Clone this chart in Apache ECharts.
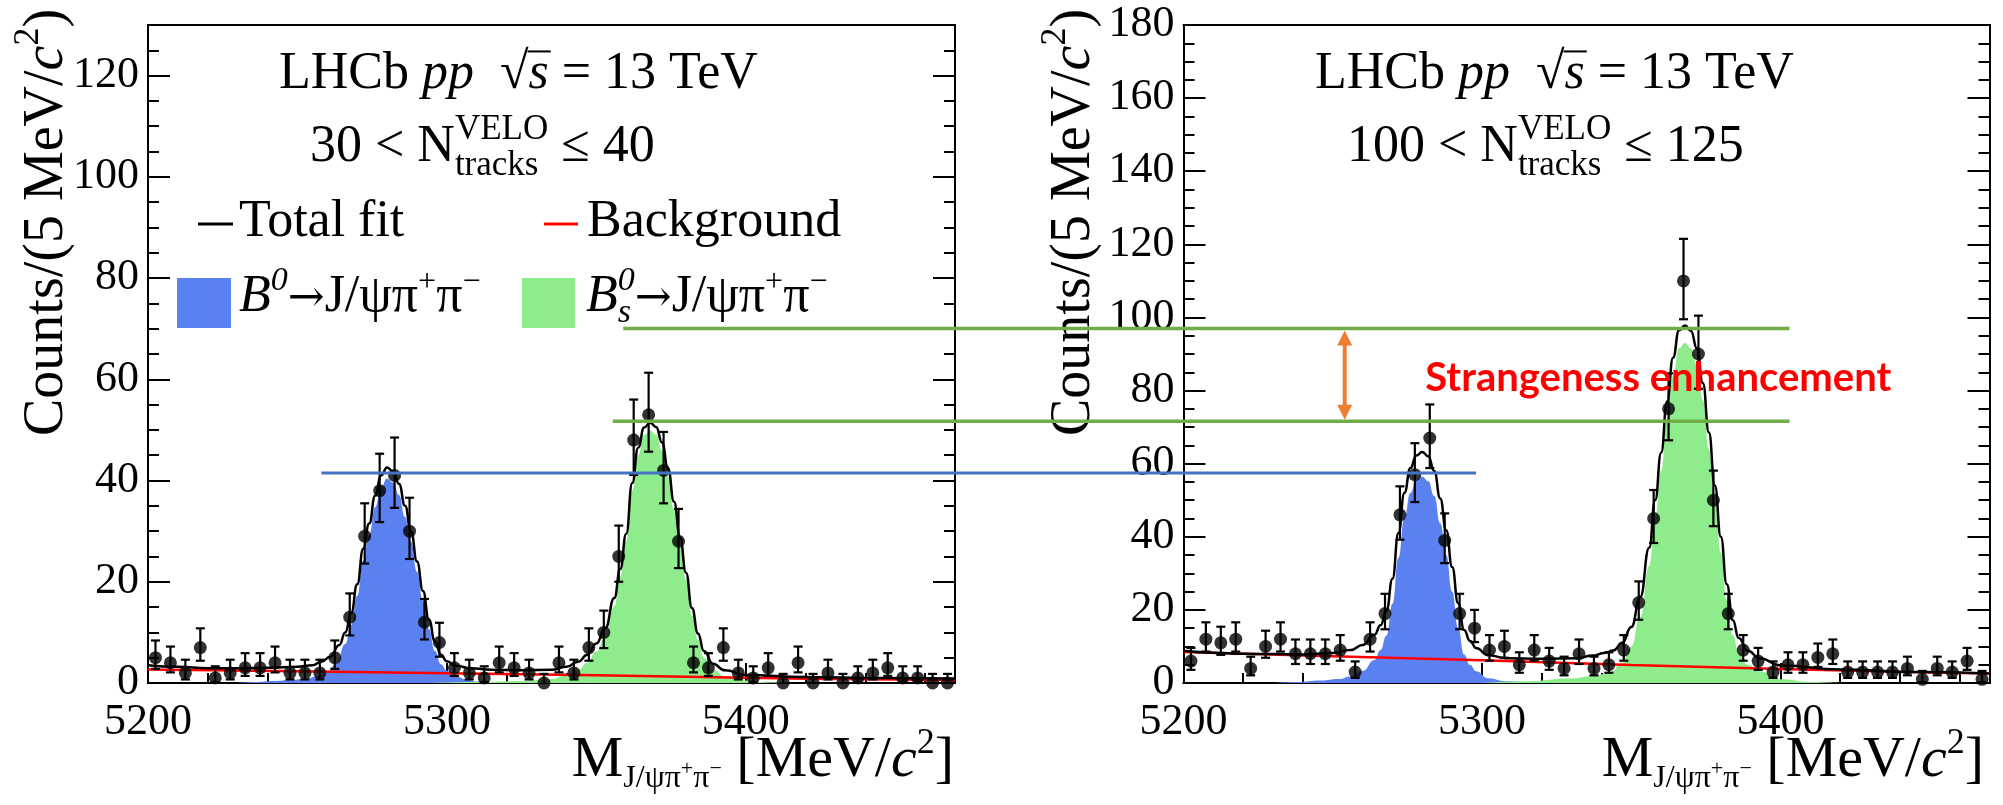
<!DOCTYPE html>
<html>
<head>
<meta charset="utf-8">
<script src="https://cdn.jsdelivr.net/npm/echarts@6/dist/echarts.min.js"></script>
<style>html,body{margin:0;padding:0;background:#fff}#c{width:2003px;height:805px}</style>
</head>
<body>
<div id="c"></div>
<script>
// ---------------- data ----------------
const binCenters = [5202.5,5207.5,5212.5,5217.5,5222.5,5227.5,5232.5,5237.5,5242.5,5247.5,5252.5,5257.5,5262.5,5267.5,5272.5,5277.5,5282.5,5287.5,5292.5,5297.5,5302.5,5307.5,5312.5,5317.5,5322.5,5327.5,5332.5,5337.5,5342.5,5347.5,5352.5,5357.5,5362.5,5367.5,5372.5,5377.5,5382.5,5387.5,5392.5,5397.5,5402.5,5407.5,5412.5,5417.5,5422.5,5427.5,5432.5,5437.5,5442.5,5447.5,5452.5,5457.5,5462.5,5467.5];

// panel 1: 30 < N <= 40
const countsLow = [5,4,2,7,1,2,3,3,4,2, 2,2,5,13,29,38,41,30,12,8, 3,2,1,4,3,2,0,4,2,7, 10,25,48,53,42,28,4,3,7,2, 1,3,0,4,0,2,0,1,2,3, 1,1,0,0];
const errUpLow  = [3.4,3.2,2.6,3.8,2.3,2.6,2.9,2.9,3.2,2.6, 2.6,2.6,3.4,4.7,6.5,7.3,7.5,6.6,4.6,3.9, 2.9,2.6,2.3,3.2,2.9,2.6,1.8,3.2,2.6,3.8, 4.3,6.1,8.0,8.3,7.6,6.4,3.2,2.9,3.8,2.6, 2.3,2.9,1.8,3.2,1.8,2.6,1.8,2.3,2.6,2.9, 2.3,2.3,1.8,1.8];
const errDnLow  = [2.2,1.9,1.3,2.6,0.8,1.3,1.6,1.6,1.9,1.3, 1.3,1.3,2.2,3.6,5.4,6.2,6.4,5.5,3.4,2.8, 1.6,1.3,0.8,1.9,1.6,1.3,0,1.9,1.3,2.6, 3.1,5.0,6.9,7.3,6.5,5.3,1.9,1.6,2.6,1.3, 0.8,1.6,0,1.9,0,1.3,0,0.8,1.3,1.6, 0.8,0.8,0,0];

const fitMassLow  = [5200,5210,5220,5230,5240,5250,5255,5258,5261,5264,5266,5268,5270,5272,5274,5276,5278,5280,5282,5284,5286,5288,5290,5292,5294,5296,5298,5300,5303,5308,5315,5325,5335,5340,5344,5347,5350,5353,5356,5358,5360,5362,5364,5366,5368,5370,5372,5374,5376,5378,5380,5382,5384,5386,5389,5393,5400,5420,5445,5470];
const fitTotalLow = [3.5,3.2,2.9,2.9,3.0,3.2,3.5,4.2,5.2,7.5,10,13.8,19.5,26.5,31.5,37,41,42.6,41.8,39.3,35,30,24,18.2,12.5,8.2,5.6,4.3,3.4,2.9,2.6,2.5,2.6,3.2,4.2,5.6,7.8,10.8,16.8,22.5,29.5,39.5,46.5,50.5,51.4,50.6,47.5,42.3,35.8,28.8,21.8,14.8,9.8,6.3,3.8,2.5,1.6,1.2,1.0,0.9];
const bkgMassLow  = [5200,5250,5300,5350,5400,5420,5470];
const bkgLow      = [2.65,2.3,1.95,1.55,1.05,0.85,0.6];
const b0MassLow   = [5230,5236,5242,5248,5253,5257,5260,5263,5266,5268,5270,5272,5274,5276,5278,5280,5282,5284,5286,5288,5290,5292,5294,5296,5298,5300,5303,5306,5310,5316];
const b0Low       = [0,0.2,0.4,0.6,0.9,1.4,2.2,3.8,7.7,11.5,17.2,24.2,29.2,34.7,38.7,40.4,39.6,37.1,32.8,27.9,22,16.3,10.6,6.3,3.7,2.4,1.4,0.8,0.3,0];
const bsMassLow   = [5295,5310,5325,5335,5340,5344,5347,5350,5353,5356,5358,5360,5362,5364,5366,5368,5370,5372,5374,5376,5378,5380,5382,5384,5386,5389,5393,5400,5408,5416];
const bsLow       = [0,0.2,0.4,0.8,1.6,2.6,4.0,6.2,9.2,15.2,21,28,38,45,49,49.9,49.1,46,40.8,34.3,27.3,20.4,13.4,8.5,5.0,2.6,1.3,0.5,0.15,0];

// panel 2: 100 < N <= 125
const countsHigh = [6,12,11,12,4,10,12,8,8,8, 9,3,12,19,46,57,67,39,19,15, 9,10,5,9,6,4,8,4,5,9, 22,45,75,110,90,50,19,9,6,3, 5,5,7,8,3,3,3,3,4,1, 4,3,6,1];
const errUpHigh  = [3.6,4.6,4.4,4.6,3.2,4.3,4.6,3.9,3.9,3.9, 4.1,2.9,4.6,5.4,7.8,8.6,9.2,7.4,5.4,5.0, 4.1,4.3,3.4,4.1,3.6,3.2,3.9,3.2,3.4,4.1, 5.8,7.8,9.7,11.5,10.5,8.1,5.4,4.1,3.6,2.9, 3.4,3.4,3.8,3.9,2.9,2.9,2.9,2.9,3.2,2.3, 3.2,2.9,3.6,2.3];
const errDnHigh  = [2.4,3.4,3.3,3.4,1.9,3.1,3.4,2.8,2.8,2.8, 2.9,1.6,3.4,4.3,6.8,7.5,8.2,6.2,4.3,3.8, 2.9,3.1,2.2,2.9,2.4,1.9,2.8,1.9,2.2,2.9, 4.7,6.7,8.6,10.5,9.5,7.1,4.3,2.9,2.4,1.6, 2.2,2.2,2.6,2.8,1.6,1.6,1.6,1.6,1.9,0.8, 1.9,1.6,2.4,0.8];

const fitMassHigh  = [5200,5210,5220,5230,5240,5250,5256,5260,5264,5266,5268,5270,5272,5274,5276,5278,5280,5282,5284,5286,5288,5290,5292,5294,5296,5298,5302,5308,5320,5332,5337,5341,5344,5347,5350,5353,5356,5358,5360,5362,5364,5366,5368,5370,5372,5374,5376,5378,5380,5382,5384,5386,5389,5393,5400,5420,5445,5470];
const fitTotalHigh = [8.8,8.3,8.0,7.9,7.8,8.2,9.0,10.4,13.2,15.8,19.8,28.5,41,52,58.8,62.2,63.2,62,58,50.5,41.8,31.7,21.8,14.5,11.5,9.6,7.6,6.8,6.6,6.8,7.5,8.2,8.9,11,15.3,23.5,37,50,63,77,89,96.5,97.8,96.3,91.5,82,68.5,54,40,27,17.2,12.3,8.8,6.8,4.8,3.7,3.0,2.6];
const bkgMassHigh  = [5200,5250,5300,5350,5400,5450,5470];
const bkgHigh      = [8.5,7.3,6.2,4.9,3.8,2.9,2.6];
const b0MassHigh   = [5230,5238,5246,5252,5256,5260,5264,5266,5268,5270,5272,5274,5276,5278,5280,5282,5284,5286,5288,5290,5292,5294,5296,5298,5302,5308,5316];
const b0High       = [0,0.3,0.7,1.1,1.8,3.3,6.3,9,13,21.7,34.2,45.2,52,55.4,56.4,55.2,51.2,43.7,35,25,15.1,7.8,4.9,3.2,1.3,0.5,0];
const bsMassHigh   = [5300,5315,5330,5338,5343,5347,5350,5353,5356,5358,5360,5362,5364,5366,5368,5370,5372,5374,5376,5378,5380,5382,5384,5386,5389,5393,5400,5410,5420];
const bsHigh       = [0,0.5,1.3,2.0,3.0,5.5,10,18,32,45,58,72,84,91.6,93,91.5,86.8,77.4,64,49.6,35.7,22.8,13.1,8.3,5,3.2,1.0,0.3,0];

// axis ranges / ticks / tick labels
const xMin = 5200, xMax = 5470, xMajor = 100, xMinor = 20;
const yMaxLow = 130, yMaxHigh = 180, yMajor = 20, yMinor = 5;
const xTickLabels = [5200, 5300, 5400];
const yTickLabelsLow = [0, 20, 40, 60, 80, 100, 120];
const yTickLabelsHigh = [0, 20, 40, 60, 80, 100, 120, 140, 160, 180];

// annotation levels (overlay drawn on top of the two plots)
const annB0Level = 41.5;      // left panel counts
const annB0Start = 5258;      // left panel mass
const annB0End = 5298;        // right panel mass
const annBsLowLevel = 51.7;   // left panel counts
const annBsLowStart = 5355.5; // left panel mass
const annBsHighLevel = 97;    // right panel counts
const annBsHighStart = 5359;  // left panel mass
const annBsEnd = 5403;        // right panel mass
const annArrowMass = 5254, annArrowTop = 96.4, annArrowBottom = 72.0; // right panel
const annTextMass = 5281, annTextBase = 79.3;                           // right panel
const annText = 'Strangeness enhancement';

// ---------------- styles ----------------
const SERIF = 'Liberation Serif';
const BLUE = '#5b81f1', GREEN = '#8fec8c';
const zip = (a, b) => a.map((v, i) => [v, b[i]]);

const gridsPos = [
  {left: 148, top: 25, width: 807, height: 658},
  {left: 1183.5, top: 25, width: 806, height: 658}
];

function tickStyle(len){ return {show: true, inside: true, length: len, lineStyle: {color: '#000', width: 2}}; }
function mkX(gi){
  const c = {type: 'value', gridIndex: gi, min: xMin, max: xMax, splitLine: {show: false}, axisLabel: {show: false},
    axisLine: {show: true, onZero: false, lineStyle: {color: '#000', width: 2}}};
  return [
    Object.assign({}, c, {position: 'bottom', interval: xMajor, axisTick: tickStyle(20)}),
    Object.assign({}, c, {position: 'bottom', interval: xMinor, axisTick: tickStyle(10)}),
    Object.assign({}, c, {position: 'top', interval: xMajor, axisTick: {show: false}})
  ];
}
function mkY(gi, ymax){
  const c = {type: 'value', gridIndex: gi, min: 0, max: ymax, splitLine: {show: false}, axisLabel: {show: false},
    axisLine: {show: true, onZero: false, lineStyle: {color: '#000', width: 2}}};
  return [
    Object.assign({}, c, {position: 'left', interval: yMajor, axisTick: tickStyle(22)}),
    Object.assign({}, c, {position: 'left', interval: yMinor, axisTick: tickStyle(11)}),
    Object.assign({}, c, {position: 'right', interval: yMajor, axisTick: tickStyle(22)}),
    Object.assign({}, c, {position: 'right', interval: yMinor, axisTick: tickStyle(11)})
  ];
}

function panelSeries(xi, yi, counts, up, dn, fitM, fitV, bkM, bkV, b0M, b0V, bsM, bsV){
  const base = {xAxisIndex: xi, yAxisIndex: yi, silent: true, animation: false};
  return [
    Object.assign({type: 'line', data: zip(b0M, b0V), smooth: 0.5, smoothMonotone: 'x', symbol: 'none',
      lineStyle: {width: 0}, areaStyle: {color: BLUE, opacity: 1}, z: 1}, base),
    Object.assign({type: 'line', data: zip(bsM, bsV), smooth: 0.5, smoothMonotone: 'x', symbol: 'none',
      lineStyle: {width: 0}, areaStyle: {color: GREEN, opacity: 1}, z: 1}, base),
    Object.assign({type: 'line', data: zip(bkM, bkV), symbol: 'none', lineStyle: {color: '#ff0000', width: 2.5}, z: 3}, base),
    Object.assign({type: 'line', data: zip(fitM, fitV), smooth: 0.5, smoothMonotone: 'x', symbol: 'none',
      lineStyle: {color: '#000', width: 2.5}, z: 4}, base),
    Object.assign({type: 'custom', z: 5,
      data: binCenters.map((m, i) => [m, counts[i] - dn[i], counts[i] + up[i]]),
      renderItem: function(params, api){
        const x = api.value(0), lo = api.value(1), hi = api.value(2);
        const p1 = api.coord([x, lo]), p2 = api.coord([x, hi]);
        const st = {stroke: '#000', lineWidth: 2.2};
        const ch = [
          {type: 'line', shape: {x1: p1[0], y1: p1[1], x2: p2[0], y2: p2[1]}, style: st},
          {type: 'line', shape: {x1: p2[0] - 4.5, y1: p2[1], x2: p2[0] + 4.5, y2: p2[1]}, style: st}
        ];
        if (lo > 0) ch.push({type: 'line', shape: {x1: p1[0] - 4.5, y1: p1[1], x2: p1[0] + 4.5, y2: p1[1]}, style: st});
        return {type: 'group', children: ch};
      }}, base),
    Object.assign({type: 'scatter', data: zip(binCenters, counts), symbol: 'circle', symbolSize: 13,
      itemStyle: {color: '#000'}, z: 6}, base)
  ];
}

const chart = echarts.init(document.getElementById('c'), null, {renderer: 'canvas', width: 2003, height: 805});
// x axes: 0-2 left panel, 3-5 right panel; y axes: 0-3 left, 4-7 right
chart.setOption({
  animation: false,
  backgroundColor: '#fff',
  grid: gridsPos.map(g => Object.assign({containLabel: false}, g)),
  xAxis: mkX(0).concat(mkX(1)),
  yAxis: mkY(0, yMaxLow).concat(mkY(1, yMaxHigh)),
  series: panelSeries(0, 0, countsLow, errUpLow, errDnLow, fitMassLow, fitTotalLow, bkgMassLow, bkgLow, b0MassLow, b0Low, bsMassLow, bsLow)
    .concat(panelSeries(3, 4, countsHigh, errUpHigh, errDnHigh, fitMassHigh, fitTotalHigh, bkgMassHigh, bkgHigh, b0MassHigh, b0High, bsMassHigh, bsHigh))
});

// ---------------- text & overlay ----------------
const ctx = document.createElement('canvas').getContext('2d');
const KMID = {'Liberation Serif': 0.3375, 'Lato': 0.387};
function fontStr(p){ return (p.italic ? 'italic ' : '') + (p.bold ? 'bold ' : '') + p.size + 'px "' + (p.family || SERIF) + '"'; }
function measure(p){ ctx.font = fontStr(p); return ctx.measureText(p.t).width; }
function textEl(x, y, p){
  return {type: 'text', x: x, y: y, z: 100, silent: true,
    style: {text: p.t, font: fontStr(p), fill: p.color || '#000', align: 'left', verticalAlign: 'middle',
            textAlign: 'left', textVerticalAlign: 'middle'}};
}
function runPieces(x0, base, pieces, size){
  const els = []; let x = x0;
  for (const p0 of pieces){
    const items = p0.stack ? p0.stack : [p0];
    let w = 0;
    for (const q of items){
      const p = Object.assign({size: size}, q);
      const k = KMID[p.family || SERIF] || 0.34;
      els.push(textEl(x, base + (p.dy || 0) - k * p.size, p));
      const wi = measure(p);
      if (p.overline) {
        els.push({type: 'line', z: 100, silent: true,
          shape: {x1: x - 1, y1: base - 0.78 * p.size, x2: x + wi + 2, y2: base - 0.78 * p.size},
          style: {stroke: p.color || '#000', lineWidth: 2}});
      }
      w = Math.max(w, wi);
    }
    x += w;
  }
  return {els: els, width: x - x0};
}
function widthOf(pieces, size){ return runPieces(0, 0, pieces, size).width; }

const pxL = (m, v) => chart.convertToPixel({xAxisIndex: 0, yAxisIndex: 0}, [m, v]);
const pxR = (m, v) => chart.convertToPixel({xAxisIndex: 3, yAxisIndex: 4}, [m, v]);

const G = [];
function add(r){ r.els.forEach(e => G.push(e)); }

// tick labels, placed through the axes' own scales
const TICK_FS = 44;
[[pxL, yTickLabelsLow], [pxR, yTickLabelsHigh]].forEach(([px, yl]) => {
  xTickLabels.forEach(v => {
    const p = px(v, 0), s = String(v), w = measure({t: s, size: TICK_FS});
    add(runPieces(p[0] - w / 2, 737, [{t: s}], TICK_FS));
  });
  yl.forEach(v => {
    const p = px(xMin, v), s = String(v), w = measure({t: s, size: TICK_FS});
    add(runPieces(p[0] - 9 - w, p[1] + 0.33 * TICK_FS, [{t: s}], TICK_FS));
  });
});

// header texts
const lhcb = [{t: 'LHCb '}, {t: 'pp', italic: true}, {t: '  \u221A'}, {t: 's', italic: true, overline: true}, {t: ' = 13 TeV'}];
add(runPieces(279, 92, lhcb, 52));
add(runPieces(1315, 92, lhcb, 52));
const nLow = [{t: '30 < N'}, {stack: [{t: 'VELO', size: 35, dy: -23}, {t: 'tracks', size: 35, dy: 13}]}, {t: ' \u2264 40'}];
const nHigh = [{t: '100 < N'}, {stack: [{t: 'VELO', size: 35, dy: -23}, {t: 'tracks', size: 35, dy: 13}]}, {t: ' \u2264 125'}];
add(runPieces(310, 165, nLow, 52));
add(runPieces(1347, 165, nHigh, 52));

// legend (left panel)
G.push({type: 'line', z: 100, silent: true, shape: {x1: 198, y1: 224, x2: 233, y2: 224}, style: {stroke: '#000', lineWidth: 3}});
G.push({type: 'line', z: 100, silent: true, shape: {x1: 544, y1: 224, x2: 578, y2: 224}, style: {stroke: '#ff0000', lineWidth: 3}});
G.push({type: 'rect', z: 100, silent: true, shape: {x: 177, y: 278, width: 54, height: 50}, style: {fill: BLUE}});
G.push({type: 'rect', z: 100, silent: true, shape: {x: 522, y: 278, width: 53, height: 50}, style: {fill: GREEN}});
add(runPieces(239, 240, [{t: 'Total fit'}], 52));
add(runPieces(587, 240, [{t: 'Background'}], 52));
const decay = [{t: '\u2192', family: 'DejaVu Serif', size: 44}, {t: 'J/\u03C8\u03C0'}, {t: '+', size: 32, dy: -22}, {t: '\u03C0'}, {t: '\u2212', size: 32, dy: -22}];
add(runPieces(239, 315, [{t: 'B', italic: true}, {t: '0', italic: true, size: 34, dy: -22}].concat(decay), 52));
add(runPieces(586, 315, [{t: 'B', italic: true}, {stack: [{t: '0', italic: true, size: 34, dy: -22}, {t: 's', italic: true, size: 34, dy: 10}]}].concat(decay), 52));

// x axis titles
const xTitle = [{t: 'M', size: 58}, {t: 'J/\u03C8\u03C0', size: 32, dy: 9}, {t: '+', size: 22, dy: -3}, {t: '\u03C0', size: 32, dy: 9},
  {t: '\u2212', size: 22, dy: -3}, {t: ' [MeV/', size: 58}, {t: 'c', italic: true, size: 58}, {t: '2', size: 36, dy: -24}, {t: ']', size: 58}];
const xtW = widthOf(xTitle, 58);
add(runPieces(954 - xtW, 780, xTitle, 58));
add(runPieces(1984 - xtW, 780, xTitle, 58));

// y axis titles (rotated)
const yTitle = [{t: 'Counts/(5 MeV/'}, {t: 'c', italic: true}, {t: '2', size: 36, dy: -25}, {t: ')'}];
[[66, 436], [1093, 436]].forEach(([gx, gy]) => {
  G.push({type: 'group', x: gx, y: gy, rotation: Math.PI / 2, silent: true, children: runPieces(0, 0, yTitle, 56).els});
});

// overlay lines
function hline(x1, x2, y, color, w){ G.push({type: 'line', z: 120, silent: true, shape: {x1: x1, y1: y, x2: x2, y2: y}, style: {stroke: color, lineWidth: w}}); }
{
  const a = pxL(annB0Start, annB0Level), b = pxR(annB0End, 0);
  hline(a[0], b[0], a[1], '#4472C4', 3);
  const c = pxL(annBsLowStart, annBsLowLevel), d = pxR(annBsEnd, 0);
  hline(c[0], d[0], c[1], '#70AD47', 3.5);
  const e = pxL(annBsHighStart, 0), f = pxR(annBsEnd, annBsHighLevel);
  hline(e[0], f[0], f[1], '#70AD47', 3.5);
  const t = pxR(annArrowMass, annArrowTop), bt = pxR(annArrowMass, annArrowBottom);
  const ax = t[0], hl = 15, hw = 7.5, OR = '#ED7D31';
  G.push({type: 'line', z: 121, silent: true, shape: {x1: ax, y1: t[1] + hl - 2, x2: ax, y2: bt[1] - hl + 2}, style: {stroke: OR, lineWidth: 4}});
  G.push({type: 'polygon', z: 121, silent: true, shape: {points: [[ax, t[1]], [ax - hw, t[1] + hl], [ax + hw, t[1] + hl]]}, style: {fill: OR}});
  G.push({type: 'polygon', z: 121, silent: true, shape: {points: [[ax, bt[1]], [ax - hw, bt[1] - hl], [ax + hw, bt[1] - hl]]}, style: {fill: OR}});
  const tp = pxR(annTextMass, annTextBase);
  ctx.font = 'bold 100px "Lato"';
  const w100 = ctx.measureText(annText).width;
  const sz = Math.round(100 * 466 / w100 * 10) / 10;
  add(runPieces(tp[0], tp[1], [{t: annText, family: 'Lato', bold: true, size: sz, color: '#ff0000'}], sz));
}

chart.setOption({graphic: {elements: G}});
</script>
</body>
</html>
